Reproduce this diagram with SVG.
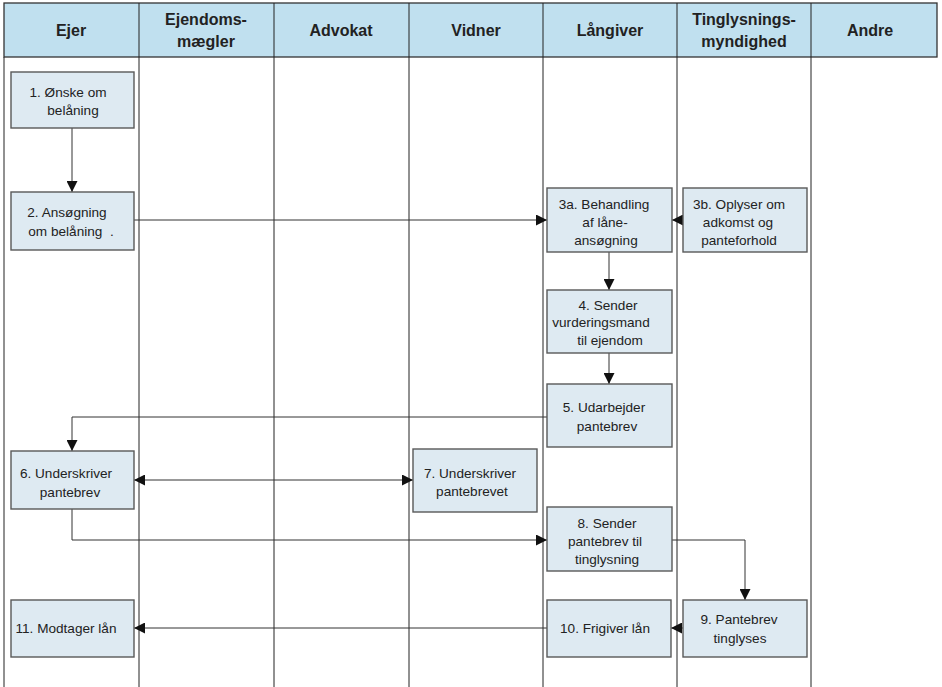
<svg xmlns="http://www.w3.org/2000/svg" width="942" height="687" viewBox="0 0 942 687">
<style>
.hdr{fill:#c0e0ef;stroke:#333;stroke-width:1.3}
.lane{stroke:#222;stroke-width:1;fill:none}
.ht{font-family:"Liberation Sans",Arial,sans-serif;font-weight:bold;font-size:16px;fill:#222;text-anchor:middle}
.box{fill:#deeaf2;stroke:#595959;stroke-width:1.4}
.t{font-family:"Liberation Sans",Arial,sans-serif;font-size:13.6px;fill:#222;text-anchor:middle}
.c{stroke:#333;stroke-width:1;fill:none}
</style>
<defs>
<marker id="ah" viewBox="0 0 11 11" refX="11" refY="5.5" markerWidth="11" markerHeight="11" markerUnits="userSpaceOnUse" orient="auto-start-reverse">
<path d="M0,0 L11,5.5 L0,11 Z" fill="#111"/>
</marker>
</defs>
<rect width="942" height="687" fill="#fff"/>
<g id="header">
<rect class="hdr" x="4" y="3" width="933" height="54"/>
<line class="lane" x1="139" y1="3" x2="139" y2="57"/>
<line class="lane" x1="274" y1="3" x2="274" y2="57"/>
<line class="lane" x1="409" y1="3" x2="409" y2="57"/>
<line class="lane" x1="543" y1="3" x2="543" y2="57"/>
<line class="lane" x1="677" y1="3" x2="677" y2="57"/>
<line class="lane" x1="811" y1="3" x2="811" y2="57"/>
<text class="ht" x="71" y="36">Ejer</text>
<text class="ht" x="206" y="25">Ejendoms-</text>
<text class="ht" x="206" y="47">mægler</text>
<text class="ht" x="341" y="36">Advokat</text>
<text class="ht" x="476" y="36">Vidner</text>
<text class="ht" x="610" y="36">Långiver</text>
<text class="ht" x="744" y="25">Tinglysnings-</text>
<text class="ht" x="744" y="47">myndighed</text>
<text class="ht" x="870" y="36">Andre</text>
</g>
<g id="lanes">
<line class="lane" x1="4" y1="57" x2="4" y2="687"/>
<line class="lane" x1="139" y1="57" x2="139" y2="687"/>
<line class="lane" x1="274" y1="57" x2="274" y2="687"/>
<line class="lane" x1="409" y1="57" x2="409" y2="687"/>
<line class="lane" x1="543" y1="57" x2="543" y2="687"/>
<line class="lane" x1="677" y1="57" x2="677" y2="687"/>
<line class="lane" x1="811" y1="57" x2="811" y2="687"/>
</g>
<g id="connectors">
<path class="c" d="M72,128 V192" marker-end="url(#ah)"/>
<path class="c" d="M134,220 H547" marker-end="url(#ah)"/>
<path class="c" d="M683,220 H672" marker-end="url(#ah)"/>
<path class="c" d="M609,252 V290" marker-end="url(#ah)"/>
<path class="c" d="M609,353 V384" marker-end="url(#ah)"/>
<path class="c" d="M547,417 H72 V451" marker-end="url(#ah)"/>
<path class="c" d="M134,480 H413" marker-start="url(#ah)" marker-end="url(#ah)"/>
<path class="c" d="M72,509 V540 H547" marker-end="url(#ah)"/>
<path class="c" d="M672,540 H745 V600" marker-end="url(#ah)"/>
<path class="c" d="M683,628 H671" marker-end="url(#ah)"/>
<path class="c" d="M547,628 H134" marker-end="url(#ah)"/>
</g>
<g id="n1"><rect class="box" x="11" y="72" width="123" height="56"/>
<text class="t" x="68" y="97">1. Ønske om</text><text class="t" x="73" y="115">belåning</text></g>
<g id="n2"><rect class="box" x="11" y="192" width="123" height="58"/>
<text class="t" x="67" y="217">2. Ansøgning</text><text class="t" x="71" y="236" xml:space="preserve">om belåning  .</text></g>
<g id="n3a"><rect class="box" x="547" y="188" width="125" height="64"/>
<text class="t" x="604" y="209">3a. Behandling</text><text class="t" x="605" y="227">af låne-</text><text class="t" x="606" y="245">ansøgning</text></g>
<g id="n3b"><rect class="box" x="683" y="188" width="124" height="64"/>
<text class="t" x="739" y="209">3b. Oplyser om</text><text class="t" x="738" y="227">adkomst og</text><text class="t" x="739" y="245">panteforhold</text></g>
<g id="n4"><rect class="box" x="547" y="290" width="125" height="63"/>
<text class="t" x="608" y="310">4. Sender</text><text class="t" x="601" y="327">vurderingsmand</text><text class="t" x="610" y="345">til ejendom</text></g>
<g id="n5"><rect class="box" x="547" y="384" width="125" height="63"/>
<text class="t" x="604" y="412">5. Udarbejder</text><text class="t" x="607" y="431">pantebrev</text></g>
<g id="n6"><rect class="box" x="11" y="451" width="123" height="58"/>
<text class="t" x="66" y="478">6. Underskriver</text><text class="t" x="70" y="497">pantebrev</text></g>
<g id="n7"><rect class="box" x="413" y="449" width="124" height="63"/>
<text class="t" x="470" y="478">7. Underskriver</text><text class="t" x="472" y="496">pantebrevet</text></g>
<g id="n8"><rect class="box" x="547" y="507" width="125" height="64"/>
<text class="t" x="607" y="528">8. Sender</text><text class="t" x="605" y="546">pantebrev til</text><text class="t" x="607" y="564">tinglysning</text></g>
<g id="n9"><rect class="box" x="683" y="600" width="124" height="57"/>
<text class="t" x="739" y="624">9. Pantebrev</text><text class="t" x="740" y="643">tinglyses</text></g>
<g id="n10"><rect class="box" x="547" y="600" width="124" height="57"/>
<text class="t" x="605" y="633">10. Frigiver lån</text></g>
<g id="n11"><rect class="box" x="11" y="600" width="123" height="57"/>
<text class="t" x="66" y="633">11. Modtager lån</text></g>
</svg>
